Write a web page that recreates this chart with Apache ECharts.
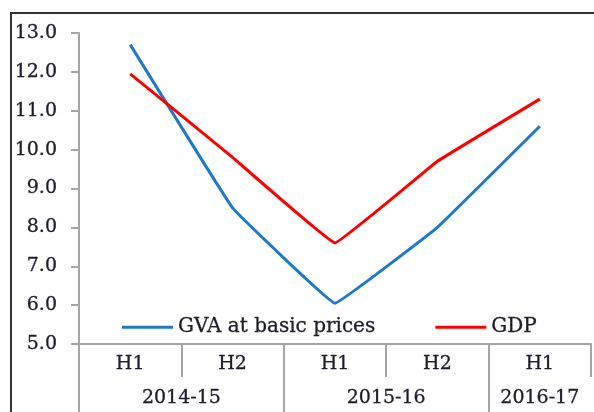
<!DOCTYPE html>
<html>
<head>
<meta charset="utf-8">
<script src="https://cdn.jsdelivr.net/npm/echarts@6/dist/echarts.min.js"></script>
<style>
  html, body { margin: 0; padding: 0; background: #fff; }
  #main { width: 594px; height: 412px; }
</style>
</head>
<body>
<div id="main"></div>
<script>
// half-year categories and the fiscal years they belong to
var halves = ['H1', 'H2', 'H1', 'H2', 'H1'];
var yearTicks = ['', '', '2014-15', '', '', '', '2015-16', '', '', '2016-17', ''];

// growth rates (%)
var gva = [12.7, 8.5, 6.05, 8.0, 10.6];
var gdp = [11.95, 9.8, 7.6, 9.7, 11.3];

var font = 'DejaVu Serif';
var axisGrey = '#a6a6a6';
var textColor = '#1c1c2a';

function txt(extra) {
  var s = {
    fontFamily: font,
    fontSize: 19,
    color: textColor,
    textBorderColor: textColor,
    textBorderWidth: 0.3
  };
  for (var k in extra) s[k] = extra[k];
  return s;
}

var chart = echarts.init(document.getElementById('main'));

var option = {
  animation: false,
  graphic: [
    {
      type: 'rect',
      shape: { x: 11, y: 13, width: 620, height: 440 },
      style: { fill: 'none', stroke: '#333', lineWidth: 2 }
    }
  ],
  grid: {
    left: 79,
    top: 33,
    width: 527,
    height: 311
  },
  legend: {
    left: 122,
    top: 317,
    padding: 0,
    icon: 'rect',
    itemWidth: 51,
    itemHeight: 3,
    itemGap: 60,
    textStyle: txt({ fontSize: 20 }),
    data: ['GVA at basic prices', 'GDP']
  },
  xAxis: [
    {
      type: 'category',
      data: halves,
      position: 'bottom',
      axisLine: { show: true, lineStyle: { color: axisGrey, width: 2 } },
      axisTick: { show: true, interval: 0, length: 33, lineStyle: { color: axisGrey, width: 2 } },
      axisLabel: txt({ interval: 0, margin: 11 })
    },
    {
      type: 'category',
      data: yearTicks,
      boundaryGap: false,
      position: 'bottom',
      axisLine: { show: false },
      axisTick: {
        show: true,
        interval: function (i) { return i === 0 || i === 4 || i === 8; },
        length: 75,
        lineStyle: { color: axisGrey, width: 2 }
      },
      axisLabel: txt({ interval: 0, margin: 45 })
    }
  ],
  yAxis: {
    type: 'value',
    min: 5,
    max: 13,
    interval: 1,
    axisLine: { show: true, lineStyle: { color: axisGrey, width: 2 } },
    axisTick: { show: true, length: 8, lineStyle: { color: axisGrey, width: 2 } },
    splitLine: { show: false },
    axisLabel: txt({
      margin: 22,
      formatter: function (v) { return v.toFixed(1); }
    })
  },
  series: [
    {
      name: 'GVA at basic prices',
      type: 'line',
      data: gva,
      symbol: 'none',
      smooth: 0.05,
      lineStyle: { color: '#1f78c8', width: 3 },
      itemStyle: { color: '#1f78c8' }
    },
    {
      name: 'GDP',
      type: 'line',
      data: gdp,
      symbol: 'none',
      smooth: 0.05,
      lineStyle: { color: '#ff0000', width: 3 },
      itemStyle: { color: '#ff0000' }
    }
  ]
};

chart.setOption(option);
</script>
</body>
</html>
